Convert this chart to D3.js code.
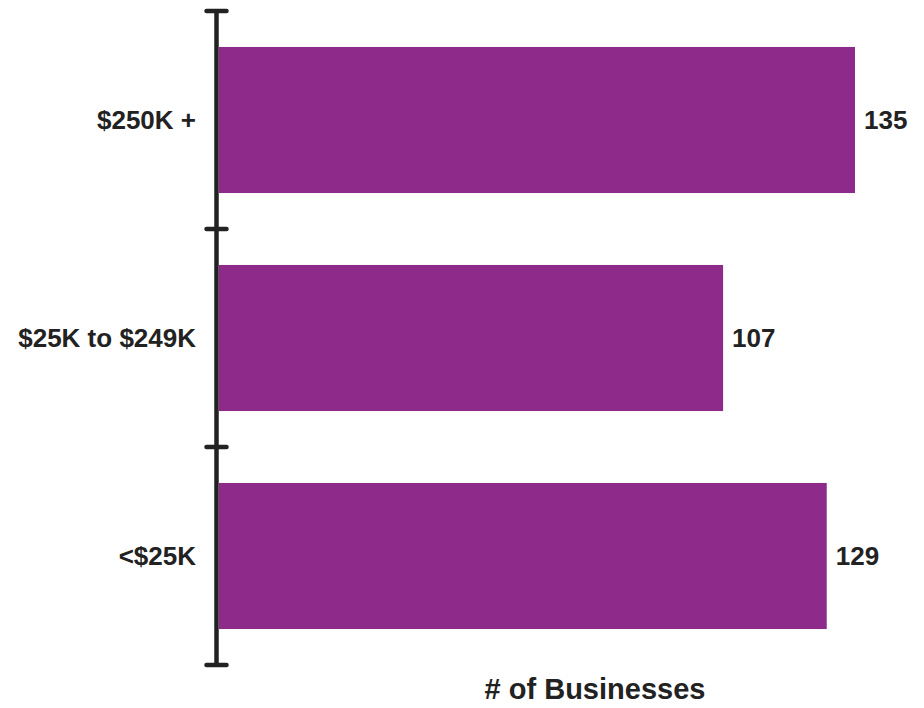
<!DOCTYPE html>
<html>
<head>
<meta charset="utf-8">
<script src="https://cdn.jsdelivr.net/npm/d3@7"></script>
<style>
  body { margin: 0; background: #fff; }
  text { font-family: "Liberation Sans", Arial, sans-serif; font-weight: bold; fill: #222; }
</style>
</head>
<body>
<script>
// data
var categories = ["$250K +", "$25K to $249K", "<$25K"];
var values = [135, 107, 129];
var axisTitle = "# of Businesses";

var width = 924, height = 708;

var svg = d3.select("body")
   .append("svg")
   .attr("width", width)
   .attr("height", height);

var y = d3.scaleBand()
   .domain(categories)
   .range([11, 665])
   .paddingInner(0.33)
   .paddingOuter(0.165);

var x = d3.scaleLinear()
   .domain([0, 135])
   .range([219, 855]);

// bars
svg.selectAll("rect.bar")
   .data(categories)
   .enter()
   .append("rect")
   .attr("class", "bar")
   .attr("x", x(0))
   .attr("y", function(d) { return y(d) })
   .attr("width", function(d, i) { return x(values[i]) - x(0) })
   .attr("height", y.bandwidth())
   .style("fill", "#8e2a8a");

// value labels
svg.selectAll("text.val")
   .data(categories)
   .enter()
   .append("text")
   .attr("class", "val")
   .attr("x", function(d, i) { return x(values[i]) + 9 })
   .attr("y", function(d) { return y(d) + y.bandwidth() / 2 })
   .attr("dy", "0.36em")
   .style("font-size", "26px")
   .text(function(d, i) { return values[i] });

// axis: line + ticks at band boundaries
var axisX = 216.5;
var r = y.range();
svg.append("line")
   .attr("x1", axisX).attr("x2", axisX)
   .attr("y1", r[0]).attr("y2", r[1])
   .style("stroke", "#222")
   .style("stroke-width", 4.5);

var bounds = d3.range(categories.length + 1).map(function(i) {
   return r[0] + i * y.step();
});
svg.selectAll("line.tick")
   .data(bounds)
   .enter()
   .append("line")
   .attr("class", "tick")
   .attr("x1", axisX - 10).attr("x2", axisX + 10)
   .attr("y1", function(d) { return d })
   .attr("y2", function(d) { return d })
   .style("stroke", "#222")
   .style("stroke-width", 4.5)
   .style("stroke-linecap", "round");

// category labels
svg.selectAll("text.cat")
   .data(categories)
   .enter()
   .append("text")
   .attr("class", "cat")
   .attr("x", 196)
   .attr("y", function(d) { return y(d) + y.bandwidth() / 2 })
   .attr("dy", "0.36em")
   .attr("text-anchor", "end")
   .style("font-size", "26px")
   .text(function(d) { return d });

// axis title
svg.append("text")
   .attr("x", 595)
   .attr("y", 699)
   .attr("text-anchor", "middle")
   .style("font-size", "29px")
   .text(axisTitle);
</script>
</body>
</html>
